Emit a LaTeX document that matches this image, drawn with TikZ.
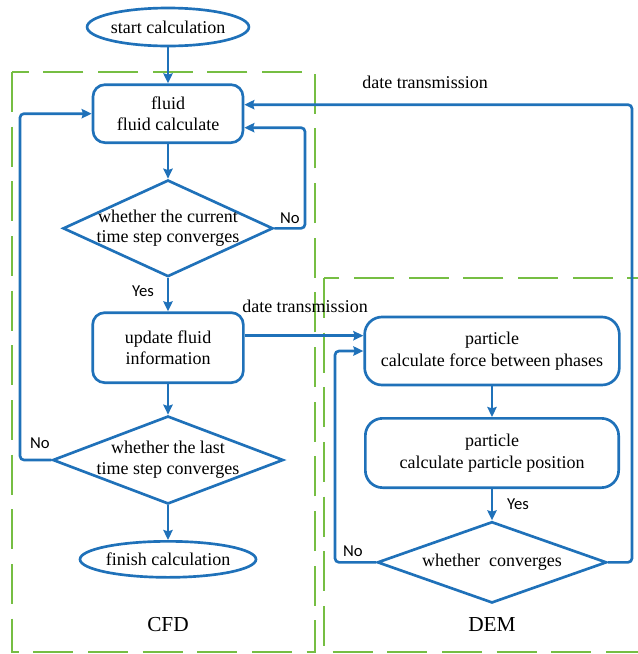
\documentclass[tikz,border=0pt]{standalone}
\usepackage{fontspec}
\setmainfont{Liberation Serif}
\newfontfamily\yesnofont{Carlito}
\usepackage{tikz}
\usetikzlibrary{shapes, arrows.meta, positioning, calc}

\definecolor{flowblue}{RGB}{31,113,185}
\definecolor{dashgreen}{RGB}{118,190,67}

\begin{document}
\begin{tikzpicture}[
    x=0.75pt, y=-0.75pt,
    >={Stealth[length=7.5pt,width=7pt,inset=1pt]},
    terminal/.style={ellipse, draw=flowblue, line width=2pt, inner sep=0pt, font=\fontsize{13.5}{16}\selectfont},
    process/.style={draw=flowblue, line width=2pt, rectangle, rounded corners=9pt, align=center, inner sep=0pt, font=\fontsize{13.5}{16}\selectfont},
    decision/.style={diamond, draw=flowblue, line width=2pt, inner sep=0pt},
    textnode/.style={align=center, font=\fontsize{13.5}{15.5}\selectfont},
    yesno/.style={font=\yesnofont\fontsize{12.5}{14}\selectfont},
    flow/.style={->, draw=flowblue, line width=2pt, rounded corners=3pt},
    region/.style={draw=dashgreen, line width=1.3pt, dash pattern=on 30pt off 11pt},
    ]

    \useasboundingbox (0,0) rectangle (638,654);

    % dashed regions
    \draw[region] (12,72) rectangle (315,652);
    \draw[region] (324,278) rectangle (641,652);

    % CFD side
    \node (start) [terminal, minimum width=115pt, minimum height=28.5pt] at (168,27) {start calculation};
    \node (fluid) [process, below=27pt of start, minimum width=112.5pt, minimum height=43.5pt] {fluid\\fluid calculate};
    \node (d1) [decision, below=26pt of fluid, minimum width=157.5pt, minimum height=72.5pt] {};
    \node (d1t) [textnode] at (d1) {whether the current\\time step converges};
    \node (update) [process, below=25pt of d1, minimum width=113pt, minimum height=52.5pt] {update fluid\\information};
    \node (d2) [decision, below=23pt of update, minimum width=173pt, minimum height=66pt] {};
    \node (d2t) [textnode] at (d2) {whether the last\\time step converges};
    \node (finish) [terminal, below=26pt of d2, minimum width=124pt, minimum height=27pt] {finish calculation};

    % DEM side
    \node (force) [process, rounded corners=13pt, minimum width=191pt, minimum height=51pt] at (492,351) {particle\\calculate force between phases};
    \node (position) [process, rounded corners=13pt, below=23pt of force, minimum width=190pt, minimum height=52pt] {particle\\calculate particle position};
    \node (d3) [decision, below=23.5pt of position, minimum width=172pt, minimum height=61pt] {};
    \node (d3t) [textnode] at (d3) {whether~ converges};

    % region titles
    \node (cfd) [font=\fontsize{16}{18}\selectfont] at (168,625) {CFD};
    \node (dem) [font=\fontsize{16}{18}\selectfont] at (492,625) {DEM};

    % turning points of the loops
    \coordinate (noright) at (305,0);
    \coordinate (noleft) at (20,0);
    \coordinate (demleft) at (335,0);
    \coordinate (demright) at (632,0);
    \coordinate (dt) at ($(update.east)+(0,-12)$);

    \draw[flow] (start) -- (fluid);
    \draw[flow] (fluid) -- (d1);
    \draw[flow] (d1) -- (update);
    \draw[flow] (update) -- (d2);
    \draw[flow] (d2) -- (finish);
    \draw[flow] (d1.east) -- (d1.east -| noright) |- ($(fluid.east)+(0,14)$);
    \draw[flow] (d2.west) -- (d2.west -| noleft) |- (fluid.west);

    \draw[flow] (dt) -- (dt -| force.west);
    \draw[flow] (force) -- (position);
    \draw[flow] (position) -- (d3);
    \draw[flow] (d3.west) -- (d3.west -| demleft) |- (force.west);
    \draw[flow] (d3.east) -- (d3.east -| demright) |- ($(fluid.east)+(0,-9)$);

    % labels
    \node (no1) [yesno] at (290,218) {No};
    \node (yes1) [yesno] at (143,291) {Yes};
    \node (no2) [yesno] at (40,443) {No};
    \node (yes2) [yesno] at (518,504) {Yes};
    \node (no3) [yesno] at (353,551) {No};
    \node (dtl1) [textnode] at (425,82) {date transmission};
    \node (dtl2) [textnode] at (305,306) {date transmission};
\end{tikzpicture}
\end{document}
